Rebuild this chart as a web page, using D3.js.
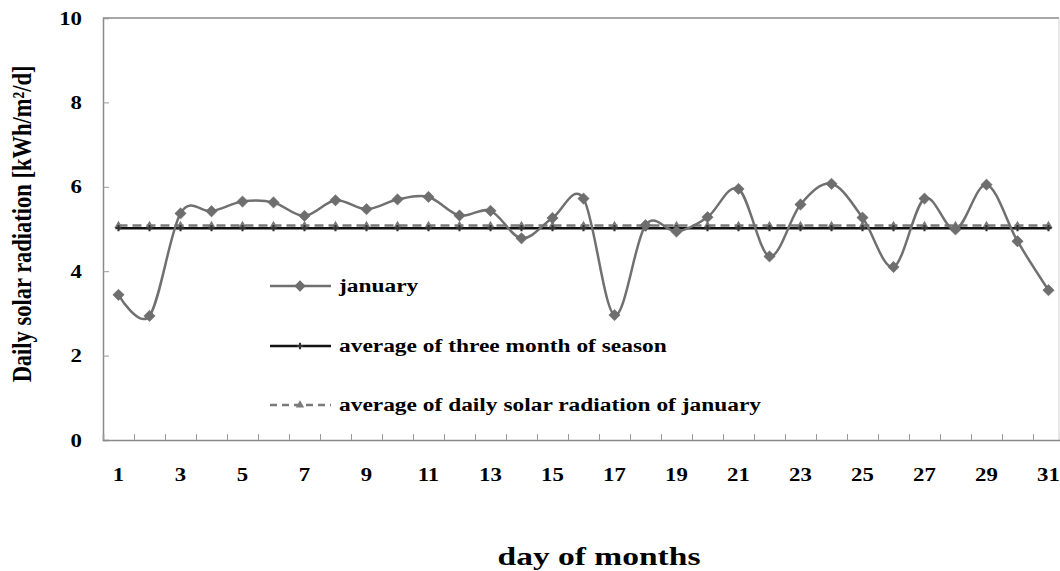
<!DOCTYPE html>
<html><head><meta charset="utf-8">
<script src="https://cdn.jsdelivr.net/npm/d3@7"></script>
<style>
html,body{margin:0;padding:0;background:#fff;}
svg{display:block;}
text{font-family:"Liberation Serif","Times New Roman",serif;font-weight:bold;fill:#000;}
</style></head>
<body>
<script>
const days = d3.range(1, 32);
const january = [3.44, 2.94, 5.37, 5.42, 5.65, 5.63, 5.31, 5.68, 5.47, 5.70, 5.76, 5.32, 5.43, 4.78, 5.26, 5.72,
                 2.96, 5.09, 4.94, 5.28, 5.95, 4.35, 5.58, 6.07, 5.27, 4.10, 5.72, 4.99, 6.05, 4.71, 3.55];
const seasonAvg = days.map(() => 5.02);
const januaryAvg = days.map(() => 5.08);
const yTicks = [0, 2, 4, 6, 8, 10];
const xTickLabels = days.filter(d => d % 2 === 1);
const legendLabels = ["january", "average of three month of season", "average of daily solar radiation of january"];
const yTitle = "Daily solar radiation [kWh/m\u00B2/d]";
const xTitle = "day of months";

const W = 1060, H = 571;
const svg = d3.select("body").append("svg").attr("width", W).attr("height", H);

const x = d3.scaleBand().domain(days).range([103, 1064]);
const xc = d => x(d) + x.bandwidth() / 2;
const y = d3.scaleLinear().domain([0, 10]).range([440, 18]);

const STRETCH = 1.3;
function stretch(sel, k) {
  sel.each(function () {
    const L = this.getComputedTextLength();
    d3.select(this).attr("textLength", L * k).attr("lengthAdjust", "spacingAndGlyphs");
  });
}

// frame: top and right borders
svg.append("line").attr("x1", 103).attr("x2", 1059).attr("y1", y(10)).attr("y2", y(10))
  .attr("stroke", "#8a8a8a").attr("stroke-width", 1.5);
svg.append("line").attr("x1", 1059).attr("x2", 1059).attr("y1", y(10)).attr("y2", y(0))
  .attr("stroke", "#d0d0d0").attr("stroke-width", 1);

// y axis
const yAxis = svg.append("g").attr("transform", "translate(103,0)")
  .call(d3.axisRight(y).tickValues(yTicks).tickSize(6).tickFormat(""));
yAxis.select(".domain").attr("stroke", "#8a8a8a").attr("stroke-width", 1.5);
yAxis.selectAll(".tick line").attr("stroke", "#9a9a9a");
svg.append("g").selectAll("text").data(yTicks).join("text")
  .attr("x", 82).attr("y", d => y(d)).attr("dy", "0.35em").attr("text-anchor", "end")
  .attr("font-size", 19).text(d => d).call(stretch, 1.2);

// x axis
const xTickScale = d3.scaleLinear().domain([0, 31]).range([103, 1064]);
const xAxis = svg.append("g").attr("transform", `translate(0,${y(0)})`)
  .call(d3.axisTop(xTickScale).tickValues(d3.range(0, 32)).tickSize(6).tickFormat(""));
xAxis.select(".domain").attr("stroke", "#8a8a8a").attr("stroke-width", 1.5);
xAxis.selectAll(".tick line").attr("stroke", "#9a9a9a");
svg.append("g").selectAll("text").data(xTickLabels).join("text")
  .attr("x", d => xc(d)).attr("y", 481).attr("text-anchor", "middle")
  .attr("font-size", 19).text(d => d).call(stretch, 1.2);

// series
const line = d3.line().x((d, i) => xc(days[i])).y(d => y(d));
const smooth = d3.line().x((d, i) => xc(days[i])).y(d => y(d)).curve(d3.curveCardinal.tension(0));

// January average (dashed gray, triangles)
svg.append("path").datum(januaryAvg).attr("d", line).attr("fill", "none")
  .attr("stroke", "#7a7a7a").attr("stroke-width", 2.5).attr("stroke-dasharray", "9,5");
svg.append("g").selectAll("path").data(januaryAvg).join("path")
  .attr("transform", (d, i) => `translate(${xc(days[i])},${y(d)})`)
  .attr("d", d3.symbol(d3.symbolTriangle, 30)).attr("fill", "#7a7a7a");

// season average (black)
svg.append("path").datum(seasonAvg).attr("d", line).attr("fill", "none")
  .attr("stroke", "#111").attr("stroke-width", 2.5);
svg.append("g").selectAll("path").data(seasonAvg).join("path")
  .attr("transform", (d, i) => `translate(${xc(days[i])},${y(d)})`)
  .attr("d", d3.symbol(d3.symbolCross, 22)).attr("fill", "#333");

// january series
svg.append("path").datum(january).attr("d", smooth).attr("fill", "none")
  .attr("stroke", "#707070").attr("stroke-width", 2.5);
svg.append("g").selectAll("path").data(january).join("path")
  .attr("transform", (d, i) => `translate(${xc(days[i])},${y(d)}) rotate(45)`)
  .attr("d", d3.symbol(d3.symbolSquare, 64)).attr("fill", "#6e6e6e").attr("stroke", "#666").attr("stroke-width", 0.5);

// legend
const legY = [286, 346, 405];
const lg = svg.append("g");
// row 1
lg.append("line").attr("x1", 270).attr("x2", 331).attr("y1", legY[0]).attr("y2", legY[0])
  .attr("stroke", "#707070").attr("stroke-width", 2.5);
lg.append("path").attr("transform", `translate(300,${legY[0]}) rotate(45)`)
  .attr("d", d3.symbol(d3.symbolSquare, 64)).attr("fill", "#6e6e6e");
// row 2
lg.append("line").attr("x1", 270).attr("x2", 331).attr("y1", legY[1]).attr("y2", legY[1])
  .attr("stroke", "#111").attr("stroke-width", 2.5);
lg.append("path").attr("transform", `translate(300,${legY[1]})`)
  .attr("d", d3.symbol(d3.symbolCross, 22)).attr("fill", "#333");
// row 3
lg.append("line").attr("x1", 270).attr("x2", 331).attr("y1", legY[2]).attr("y2", legY[2])
  .attr("stroke", "#7a7a7a").attr("stroke-width", 2.5).attr("stroke-dasharray", "7,5");
lg.append("path").attr("transform", `translate(300,${legY[2]})`)
  .attr("d", d3.symbol(d3.symbolTriangle, 30)).attr("fill", "#7a7a7a");
lg.selectAll("text").data(legendLabels).join("text")
  .attr("x", 339).attr("y", (d, i) => legY[i]).attr("dy", "0.32em")
  .attr("font-size", 18).text(d => d).call(stretch, STRETCH);

// axis titles
svg.append("text").attr("transform", "translate(31,224) rotate(-90) scale(1,1.22)")
  .attr("text-anchor", "middle").attr("font-size", 22.5).text(yTitle);
svg.append("text").attr("x", 599).attr("y", 565).attr("text-anchor", "middle")
  .attr("font-size", 25).text(xTitle).call(stretch, 1.34);
</script>
</body></html>
